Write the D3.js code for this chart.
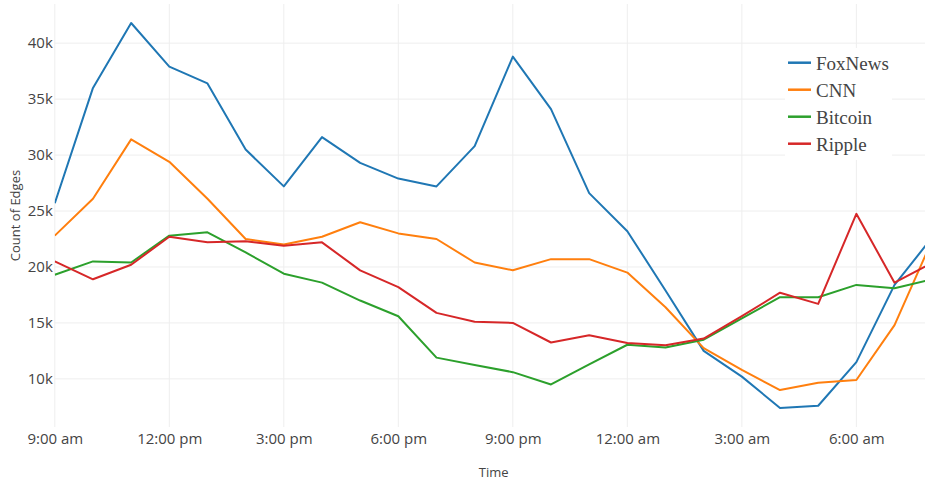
<!DOCTYPE html>
<html>
<head>
<meta charset="utf-8">
<script src="https://cdn.jsdelivr.net/npm/d3@7"></script>
<style>
  body { margin: 0; background: #fff; }
  svg { display: block; }
</style>
</head>
<body>
<div id="chart"></div>
<script>
// hourly counts, 9:00 am through 8:00 am next day
var hours = d3.range(24)
var foxNews = [25700,36000,41800,37900,36400,30500,27200,31600,29300,27900,27200,30800,38800,34100,26600,23200,17900,12500,10200,7400,7600,11500,18400,22700]
var cnn     = [22800,26100,31400,29400,26100,22500,22000,22700,24000,23000,22500,20400,19700,20700,20700,19500,16400,12750,10800,9000,9650,9900,14800,22500]
var bitcoin = [19300,20500,20400,22800,23100,21300,19400,18600,17000,15600,11900,11250,10600,9500,11300,13050,12800,13500,15400,17300,17300,18400,18100,18900]
var ripple  = [20500,18900,20200,22700,22200,22300,21900,22200,19700,18200,15900,15100,15000,13250,13900,13200,13000,13600,15600,17700,16700,24750,18600,20400]

var seriesNames = ["FoxNews","CNN","Bitcoin","Ripple"]
var seriesData = [foxNews, cnn, bitcoin, ripple]
var colors = ["#1f77b4","#ff7f0e","#2ca02c","#d62728"]
var yTicks = [10000,15000,20000,25000,30000,35000,40000]

var width = 925, height = 481
var plotLeft = 54.8, plotRight = 932.7, plotTop = 4, plotBottom = 427

var start = new Date(2018, 0, 1, 9)
var times = hours.map(function(h){ return d3.timeHour.offset(start, h) })

var svg = d3.select("#chart")
.append("svg")
.attr("width", width)
.attr("height", height)
.style("font-family", "'Open Sans', sans-serif")

var xScale = d3.scaleTime()
.domain([times[0], times[23]])
.range([plotLeft, plotRight])

var yScale = d3.scaleLinear()
.domain([5700, 43500])
.range([plotBottom, plotTop])

var xTicks = d3.timeHour.every(3).range(times[0], d3.timeHour.offset(times[23], 1))
var fmt = d3.timeFormat("%-I:%M %p")

// grid
svg.append("g").selectAll("line")
.data(xTicks)
.enter().append("line")
.attr("x1", function(d){ return xScale(d) })
.attr("x2", function(d){ return xScale(d) })
.attr("y1", plotTop)
.attr("y2", plotBottom)
.attr("stroke", "#eee")

svg.append("g").selectAll("line")
.data(yTicks)
.enter().append("line")
.attr("x1", plotLeft)
.attr("x2", width)
.attr("y1", function(d){ return yScale(d) })
.attr("y2", function(d){ return yScale(d) })
.attr("stroke", "#eee")

// axes (labels only)
var xAxis = d3.axisBottom(xScale)
.tickValues(xTicks)
.tickFormat(function(d){ return fmt(d).toLowerCase() })
.tickSize(0)
.tickPadding(6)
var gx = svg.append("g").attr("transform", "translate(0," + plotBottom + ")").call(xAxis)
gx.select(".domain").remove()
gx.selectAll("text").attr("fill", "#444").style("font-size", "15px").style("font-family", "'Open Sans', sans-serif")

var yAxis = d3.axisLeft(yScale)
.tickValues(yTicks)
.tickFormat(function(d){ return (d / 1000) + "k" })
.tickSize(0)
.tickPadding(2)
var gy = svg.append("g").attr("transform", "translate(" + plotLeft + ",0)").call(yAxis)
gy.select(".domain").remove()
gy.selectAll("text").attr("fill", "#444").style("font-size", "15px").style("font-family", "'Open Sans', sans-serif")

// lines
svg.append("clipPath").attr("id", "clip")
.append("rect").attr("x", plotLeft).attr("y", 0).attr("width", plotRight - plotLeft).attr("height", plotBottom + 2)

var ourLine = d3.line()
.x(function(d, i){ return xScale(times[i]) })
.y(function(d){ return yScale(d) })

svg.append("g").attr("clip-path", "url(#clip)")
.selectAll("path")
.data(seriesData)
.enter().append("path")
.attr("d", ourLine)
.attr("fill", "none")
.attr("stroke", function(d, i){ return colors[i] })
.attr("stroke-width", 2)
.attr("stroke-linejoin", "round")

// axis titles
svg.append("text")
.text("Time")
.attr("x", (plotLeft + plotRight) / 2)
.attr("y", 477)
.attr("text-anchor", "middle")
.attr("fill", "#444")
.style("font-size", "13px")

svg.append("text")
.text("Count of Edges")
.attr("transform", "translate(20," + ((plotTop + plotBottom) / 2) + ") rotate(-90)")
.attr("text-anchor", "middle")
.attr("fill", "#444")
.style("font-size", "13px")

// legend
var legend = svg.append("g")
legend.append("rect")
.attr("x", 785).attr("y", 48).attr("width", 107).attr("height", 112)
.attr("fill", "#fff")

var items = legend.selectAll("g.item")
.data(seriesNames)
.enter().append("g")
.attr("transform", function(d, i){ return "translate(788," + (62.7 + i * 27) + ")" })

items.append("line")
.attr("x1", 0).attr("x2", 23)
.attr("stroke", function(d, i){ return colors[i] })
.attr("stroke-width", 2.5)

items.append("text")
.text(function(d){ return d })
.attr("x", 28)
.attr("y", 7)
.attr("fill", "#444")
.style("font-family", "'Liberation Serif', 'Times New Roman', serif")
.style("font-size", "19px")
</script>
</body>
</html>
